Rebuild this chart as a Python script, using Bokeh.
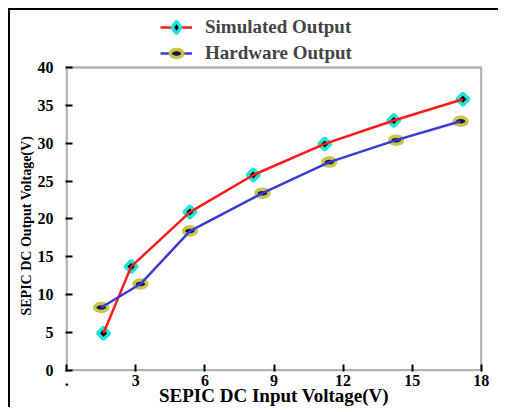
from bokeh.plotting import figure
from bokeh.models import Legend, LegendItem, FixedTicker, BoxAnnotation, Title
from bokeh.embed import file_html
from bokeh.resources import INLINE

# Data
sim_x = [1.6, 2.8, 5.35, 8.1, 11.2, 14.2, 17.2]
sim_y = [4.9, 13.7, 20.9, 25.8, 29.9, 33.0, 35.8]
hw_x = [1.5, 3.2, 5.35, 8.5, 11.4, 14.3, 17.1]
hw_y = [8.3, 11.4, 18.4, 23.4, 27.5, 30.4, 32.9]
x_ticks = [0, 3, 6, 9, 12, 15, 18]
y_ticks = [0, 5, 10, 15, 20, 25, 30, 35, 40]

FONT = "Liberation Serif"
X_MIN, X_MAX = x_ticks[0], x_ticks[-1]
Y_MIN, Y_MAX = y_ticks[0], y_ticks[-1]

# frame extends above the axes box so the legend sits inside it
p = figure(width=490, height=399, output_backend="svg", toolbar_location=None,
           x_range=(X_MIN - 0.05, X_MAX + 0.05), y_range=(Y_MIN - 0.15, Y_MAX + 7.52),
           min_border_left=55, min_border_right=18, min_border_top=0, min_border_bottom=38,
           styles={"margin-left": "8px", "margin-top": "8px",
                   "border-left": "2px solid black", "border-top": "2px solid black"})

p.grid.visible = False
p.outline_line_color = None

for ax in (p.xaxis[0], p.yaxis[0]):
    ax.axis_line_color = None
    ax.major_tick_line_width = 2
    ax.major_tick_in = 7
    ax.major_tick_out = 0
    ax.minor_tick_line_color = None
    ax.major_label_text_font = FONT
    ax.major_label_text_font_style = "bold"
    ax.major_label_text_font_size = "16px"
    ax.major_label_text_color = "black"
    ax.axis_label_text_font = FONT
    ax.axis_label_text_font_style = "bold"
    ax.axis_label_text_color = "black"

p.xaxis.ticker = FixedTicker(ticks=x_ticks)
p.yaxis.ticker = FixedTicker(ticks=y_ticks)
p.xaxis.major_label_overrides = {0: "."}
p.xaxis.axis_label = "SEPIC DC Input Voltage(V)"
p.xaxis.axis_label_text_font_size = "19px"
p.xaxis.major_label_standoff = 3
p.xaxis.axis_label_standoff = -4
p.yaxis.major_label_standoff = 12

# y axis title, aligned with the axes box rather than the whole frame
ytitle = Title(text="SEPIC DC Output Voltage(V)", align="left", offset=56,
               text_font=FONT, text_font_style="bold", text_font_size="14px",
               text_color="black", standoff=2)
p.add_layout(ytitle, "left")

# axes box
box = BoxAnnotation(left=X_MIN, right=X_MAX, bottom=Y_MIN, top=Y_MAX,
                    fill_alpha=0, line_color="black", line_width=2.5)
p.add_layout(box)

# diamond marker used for the legend (hidden beneath the rotated squares in the plot)
s_leg = p.scatter(sim_x, sim_y, marker="diamond", size=9, fill_color="black",
                  line_color="#1fe3d6", line_width=3.5)

# markers
s_mk = p.scatter(sim_x, sim_y, marker="square", angle=0.7854, size=8.5, fill_color="black",
                 line_color="#1fe3d6", line_width=3.5)
h_mk = p.ellipse(hw_x, hw_y, width=13, height=8, width_units="screen", height_units="screen",
                 fill_color="#14144a", line_color="#c9c44a", line_width=3.5)

s_line = p.line(sim_x, sim_y, line_color="#ff1a1a", line_width=2.5)
h_line = p.line(hw_x, hw_y, line_color="#3b3bd6", line_width=2.5)


def make_legend(label, renderers, glyph_h, loc):
    lg = Legend(items=[LegendItem(label=label, renderers=renderers)], location=loc)
    lg.background_fill_alpha = 0
    lg.border_line_color = None
    lg.label_text_font = FONT
    lg.label_text_font_style = "bold"
    lg.label_text_font_size = "19px"
    lg.glyph_width = 32
    lg.glyph_height = glyph_h
    lg.label_height = 22
    lg.padding = 3
    lg.margin = 0
    lg.label_standoff = 13
    return lg


p.add_layout(make_legend("Simulated Output", [s_line, s_leg], 38, (95, 325)), "center")
p.add_layout(make_legend("Hardware Output", [h_line, h_mk], 16, (95, 307)), "center")

open("out.html", "w").write(file_html(p, INLINE))
